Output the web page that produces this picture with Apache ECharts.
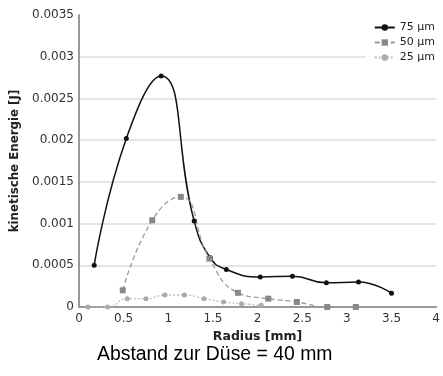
<!DOCTYPE html>
<html><head><meta charset="utf-8">
<script src="https://cdn.jsdelivr.net/npm/echarts@6/dist/echarts.min.js"></script>
<style>html,body{margin:0;padding:0;background:#fff}#c{width:443px;height:376px}</style>
</head><body><div id="c"></div>
<script>
const x75 = [0.17, 0.53, 0.92, 1.29, 1.47, 1.65, 2.03, 2.39, 2.77, 3.13, 3.5];
const y75 = [0.0005, 0.00202, 0.00277, 0.00103, 0.00059, 0.00045, 0.00036, 0.00037, 0.00029, 0.0003, 0.000165];
const x50 = [0.49, 0.82, 1.14, 1.46, 1.78, 2.12, 2.44, 2.78, 3.1];
const y50 = [0.0002, 0.00104, 0.00132, 0.00058, 0.00017, 0.0001, 0.00006, 0.0, 0.0];
const x25 = [0.1, 0.32, 0.54, 0.75, 0.96, 1.18, 1.40, 1.62, 1.82, 2.04];
const y25 = [0.0, 0.0, 0.0001, 0.0001, 0.000144, 0.000144, 0.0001, 0.00006, 0.00004, 0.00002];
const seriesNames = ['75 µm', '50 µm', '25 µm'];
const yTicks = ['0', '0.0005', '0.001', '0.0015', '0.002', '0.0025', '0.003', '0.0035'];
const xTicks = ['0', '0.5', '1', '1.5', '2', '2.5', '3', '3.5', '4'];
const caption = 'Abstand zur Düse = 40 mm';

const pairs = (xs, ys) => xs.map((x, i) => [x, ys[i]]);
const chart = echarts.init(document.getElementById('c'));
const font = 'DejaVu Sans';
chart.setOption({
  animation: false,
  grid: {left: 79, right: 0, top: 15, bottom: 69},
  graphic: [{type: 'text', left: 97, top: 345,
    style: {text: caption, font: '19.4px "Liberation Sans", Arial', fill: '#000'}}],
  legend: {
    orient: 'vertical', right: 2, top: 19, itemGap: 2, itemWidth: 20, itemHeight: 8,
    backgroundColor: '#fff', padding: [2, 6, 4, 8],
    textStyle: {fontFamily: font, fontSize: 11, color: '#222', lineHeight: 13},
    data: seriesNames
  },
  xAxis: {
    type: 'value', min: 0, max: 4, interval: 0.5,
    name: 'Radius [mm]', nameLocation: 'middle', nameGap: 20,
    nameTextStyle: {fontFamily: font, fontSize: 12.5, fontWeight: 'bold', color: '#222'},
    axisLine: {lineStyle: {color: '#999', width: 2}},
    axisTick: {show: false},
    axisLabel: {fontFamily: font, fontSize: 12, color: '#333', margin: 6,
      formatter: v => xTicks[Math.round(v / 0.5)]},
    splitLine: {show: false}
  },
  yAxis: {
    type: 'value', min: 0, max: 0.0035, interval: 0.0005,
    name: 'kinetische Energie [J]', nameLocation: 'middle', nameGap: 52,
    nameTextStyle: {fontFamily: font, fontSize: 11.8, fontWeight: 'bold', color: '#222'},
    axisLine: {show: true, lineStyle: {color: '#999', width: 2}},
    axisTick: {show: false},
    axisLabel: {fontFamily: font, fontSize: 12, color: '#333', margin: 5,
      formatter: v => yTicks[Math.round(v / 0.0005)]},
    splitLine: {show: true, lineStyle: {color: ['#ddd','#ddd','#ddd','#ddd','#ddd','#ddd','#ddd','transparent'], width: 1.5}}
  },
  series: [
    {name: seriesNames[0], type: 'line', data: pairs(x75, y75), smooth: 0.5,
      symbol: 'circle', symbolSize: 5, itemStyle: {color: '#111'},
      lineStyle: {color: '#111', width: 1.5}},
    {name: seriesNames[1], type: 'line', data: pairs(x50, y50), smooth: 0.5,
      symbol: 'rect', symbolSize: 6, itemStyle: {color: '#888'},
      lineStyle: {color: '#999', width: 1.3, type: [5, 3]}},
    {name: seriesNames[2], type: 'line', data: pairs(x25, y25), smooth: 0.5,
      symbol: 'circle', symbolSize: 5, itemStyle: {color: '#aaa'},
      lineStyle: {color: '#bbb', width: 1.3, type: [2, 2]}}
  ]
});
</script></body></html>
